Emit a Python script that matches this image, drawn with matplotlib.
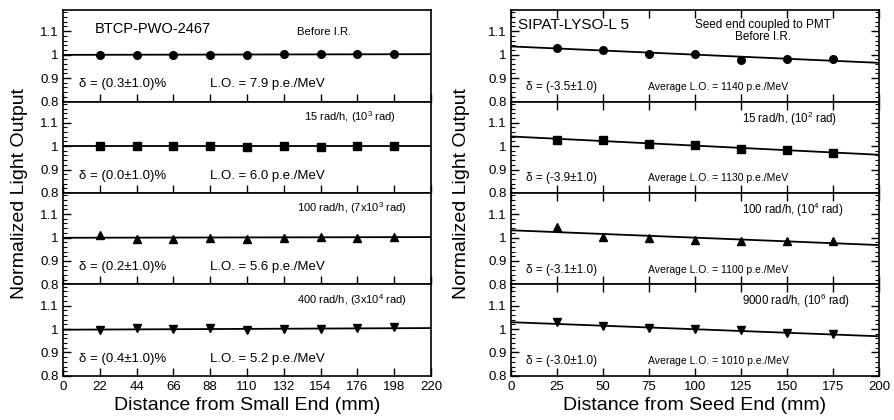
import matplotlib
matplotlib.use('Agg')
import matplotlib.pyplot as plt
from matplotlib.ticker import MultipleLocator, FixedLocator, FixedFormatter

plt.rcParams['font.family'] = ['Liberation Sans', 'DejaVu Sans']
plt.rcParams['mathtext.fontset'] = 'custom'
plt.rcParams['mathtext.rm'] = 'Liberation Sans'
plt.rcParams['mathtext.default'] = 'regular'

# PWO crystal (left)
x_pwo = [22, 44, 66, 88, 110, 132, 154, 176, 198]
pwo_vals = [
    [1.000, 0.999, 0.999, 0.999, 1.000, 1.001, 1.001, 1.002, 1.002],
    [1.000, 1.000, 1.000, 1.000, 0.997, 1.002, 0.998, 1.002, 1.000],
    [1.010, 0.993, 0.995, 0.998, 0.995, 1.000, 1.001, 1.000, 1.003],
    [0.994, 1.003, 1.000, 1.004, 0.997, 0.998, 0.999, 1.004, 1.007],
]
pwo_fit = [(0.999, 1.002), (1.000, 1.000), (0.999, 1.002), (0.997, 1.004)]
markers = ['o', 's', '^', 'v']
pwo_cond = ['Before I.R.', '15 rad/h, (10$^3$ rad)', '100 rad/h, (7x10$^3$ rad)',
            '400 rad/h, (3x10$^4$ rad)']
pwo_delta = ['(0.3\u00b11.0)%', '(0.0\u00b11.0)%', '(0.2\u00b11.0)%', '(0.4\u00b11.0)%']
pwo_lo = ['7.9', '6.0', '5.6', '5.2']

# LYSO crystal (right)
x_lyso = [25, 50, 75, 100, 125, 150, 175]
lyso_vals = [
    [1.030, 1.018, 1.004, 1.001, 0.979, 0.980, 0.980],
    [1.027, 1.026, 1.009, 1.004, 0.988, 0.982, 0.971],
    [1.047, 1.003, 0.998, 0.991, 0.984, 0.984, 0.987],
    [1.030, 1.013, 1.006, 1.001, 0.994, 0.984, 0.977],
]
lyso_fit = [(1.035, 0.965), (1.041, 0.963), (1.031, 0.968), (1.029, 0.969)]
lyso_cond = ['Before I.R.', '15 rad/h, (10$^2$ rad)',
             '100 rad/h, (10$^4$ rad)', '9000 rad/h, (10$^6$ rad)']
lyso_delta = ['(-3.5\u00b11.0)', '(-3.9\u00b11.0)', '(-3.1\u00b11.0)', '(-3.0\u00b11.0)']
lyso_lo = ['1140', '1130', '1100', '1010']

fig = plt.figure(figsize=(8.94, 4.2), dpi=100)
gl = fig.add_gridspec(4, 1, left=0.0705, right=0.482, top=0.976, bottom=0.105, hspace=0)
gr = fig.add_gridspec(4, 1, left=0.5716, right=0.9832, top=0.976, bottom=0.105, hspace=0)


def style_panel(ax, xmax, xstep, right_ticks, last):
    ax.set_xlim(0, xmax)
    ax.set_ylim(0.8, 1.19)
    ax.yaxis.set_major_locator(FixedLocator([0.8, 0.9, 1.0, 1.1]))
    ax.yaxis.set_major_formatter(FixedFormatter(['0.8', '0.9', '1', '1.1']))
    ax.yaxis.set_minor_locator(MultipleLocator(0.02))
    ax.xaxis.set_major_locator(MultipleLocator(xstep))
    ax.tick_params(axis='y', which='major', direction='in', length=6, width=1,
                   labelsize=9.5, right=right_ticks, pad=3)
    ax.tick_params(axis='y', which='minor', direction='in', length=3, width=0.8,
                   right=right_ticks)
    ax.tick_params(axis='x', which='major', direction='in', length=6, width=1,
                   labelsize=9.5, top=right_ticks, labelbottom=last)
    for sp in ax.spines.values():
        sp.set_linewidth(1.2)


for i in range(4):
    ax = fig.add_subplot(gl[i])
    style_panel(ax, 220, 22, False, i == 3)
    ax.plot([0, 220], pwo_fit[i], color='black', lw=1.3)
    ax.plot(x_pwo, pwo_vals[i], linestyle='none', marker=markers[i],
            color='black', ms=5.5)
    ax.text(0.043, 0.155, '\u03b4 = ' + pwo_delta[i], transform=ax.transAxes, fontsize=9.5)
    ax.text(0.40, 0.155, 'L.O. = ' + pwo_lo[i] + ' p.e./MeV', transform=ax.transAxes,
            fontsize=9.5)
    if i == 0:
        ax.text(0.085, 0.745, 'BTCP-PWO-2467', transform=ax.transAxes, fontsize=10.5)
        ax.text(0.637, 0.73, pwo_cond[i], transform=ax.transAxes, fontsize=8.2)
    elif i == 1:
        ax.text(0.655, 0.79, pwo_cond[i], transform=ax.transAxes, fontsize=8)
    else:
        ax.text(0.636, 0.79, pwo_cond[i], transform=ax.transAxes, fontsize=8)
    if i == 3:
        ax.set_xlabel('Distance from Small End (mm)', fontsize=14, labelpad=3)

for i in range(4):
    ax = fig.add_subplot(gr[i])
    style_panel(ax, 200, 25, True, i == 3)
    ax.plot([0, 200], lyso_fit[i], color='black', lw=1.3)
    ax.plot(x_lyso, lyso_vals[i], linestyle='none', marker=markers[i],
            color='black', ms=5.5)
    ax.text(0.04, 0.13, '\u03b4 = ' + lyso_delta[i], transform=ax.transAxes, fontsize=8.5)
    ax.text(0.372, 0.13, 'Average L.O. = ' + lyso_lo[i] + ' p.e./MeV',
            transform=ax.transAxes, fontsize=7.5)
    if i == 0:
        ax.text(0.02, 0.79, 'SIPAT-LYSO-L 5', transform=ax.transAxes, fontsize=11)
        ax.text(0.685, 0.80, 'Seed end coupled to PMT', transform=ax.transAxes,
                fontsize=8.5, ha='center')
        ax.text(0.685, 0.67, lyso_cond[i], transform=ax.transAxes,
                fontsize=8.5, ha='center')
    else:
        ax.text(0.627, 0.77, lyso_cond[i], transform=ax.transAxes, fontsize=8.3)
    if i == 3:
        ax.set_xlabel('Distance from Seed End (mm)', fontsize=14, labelpad=3)

fig.text(0.022, 0.54, 'Normalized Light Output', rotation=90, fontsize=14,
         ha='center', va='center')
fig.text(0.5165, 0.54, 'Normalized Light Output', rotation=90, fontsize=14,
         ha='center', va='center')

fig.savefig('out.png', dpi=100)
